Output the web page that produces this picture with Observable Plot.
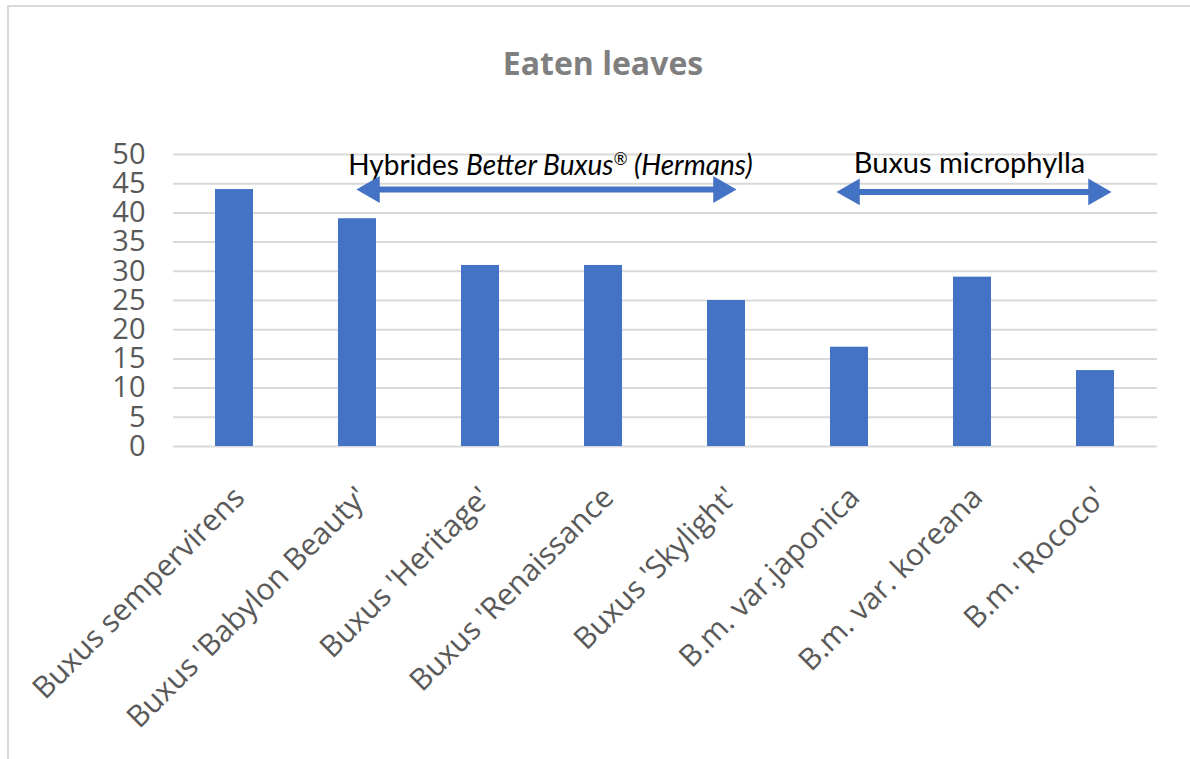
<!DOCTYPE html>
<html>
<head>
<meta charset="utf-8">
<script src="https://cdn.jsdelivr.net/npm/d3@7"></script>
<script src="https://cdn.jsdelivr.net/npm/@observablehq/plot@0.6"></script>
<style>
  html, body { margin: 0; padding: 0; background: #fff; width: 1190px; height: 759px; overflow: hidden; }
  #frame { position: absolute; left: 7px; top: 5px; width: 1200px; height: 800px; border: 2px solid #d9d9d9; box-sizing: border-box; }
  #title { position: absolute; left: 0; top: 47px; width: 1206px; text-align: center; font-family: "Open Sans", sans-serif; font-weight: bold; font-size: 32px; line-height: 1; color: #7f7f7f; }
  #chart { position: absolute; left: 0; top: 0; }
</style>
</head>
<body>
<div id="frame"></div>
<div id="title">Eaten leaves</div>
<div id="chart"></div>
<script>
const categories = ["Buxus sempervirens", "Buxus 'Babylon Beauty'", "Buxus 'Heritage'", "Buxus 'Renaissance", "Buxus 'Skylight'", "B.m. var.japonica", "B.m. var. koreana", "B.m. 'Rococo'"];
const eaten = [44, 39, 31, 31, 25, 17, 29, 13];
const yTicks = [0, 5, 10, 15, 20, 25, 30, 35, 40, 45, 50];
const groupLabels = ["Hybrides Better Buxus® (Hermans)", "Buxus microphylla"];
const groupFrom = ["Buxus 'Babylon Beauty'", "B.m. var.japonica"];
const groupTo = ["Buxus 'Skylight'", "B.m. 'Rococo'"];

const data = categories.map((name, i) => ({name, value: eaten[i]}));
const blue = "#4472c4";
const annoFont = "Lato, 'Open Sans', sans-serif";

const plot = Plot.plot({
  width: 1190,
  height: 759,
  marginLeft: 173,
  marginRight: 33,
  marginTop: 154,
  marginBottom: 313,
  style: {background: "transparent", fontFamily: "'Open Sans', sans-serif"},
  x: {domain: categories, paddingInner: 0.69, paddingOuter: 0.345, axis: null},
  y: {domain: [0, 50], axis: null},
  marks: [
    Plot.gridY({ticks: yTicks, stroke: "#d9d9d9", strokeOpacity: 1, strokeWidth: 2}),
    Plot.axisY({ticks: yTicks, tickSize: 0, tickPadding: 28, fontSize: 29, color: "#595959", tickFormat: d => String(d), label: null}),
    Plot.barY(data, {x: "name", y: "value", fill: blue}),
    Plot.text(categories, {x: d => d, frameAnchor: "bottom", rotate: -45, textAnchor: "end", lineAnchor: "middle", dx: 5, dy: 46, fontSize: 30, fill: "#595959"}),
    // group annotations
    Plot.text([groupLabels[0]], {x: () => categories[2], y: () => 48.0, dx: 70, text: d => d, fontSize: 28, fontFamily: annoFont, fill: "#000", textAnchor: "middle", lineAnchor: "middle"}),
    Plot.text([groupLabels[1]], {x: () => categories[6], y: () => 48.5, dx: -3, text: d => d, fontSize: 29, fontFamily: annoFont, fill: "#000", textAnchor: "middle", lineAnchor: "middle"}),
    Plot.link([0], {x1: () => groupFrom[0], x2: () => groupTo[0], y1: () => 44.0, y2: () => 44.0, dx: 4, stroke: blue, strokeWidth: 6}),
    Plot.link([1], {x1: () => groupFrom[1], x2: () => groupTo[1], y1: () => 43.6, y2: () => 43.6, stroke: blue, strokeWidth: 6}),
    Plot.dot([0], {x: () => groupFrom[0], y: () => 44.0, dx: 14.5, symbol: "triangle", r: 10, fill: blue, rotate: -90}),
    Plot.dot([0], {x: () => groupTo[0], y: () => 44.0, dx: -5.5, symbol: "triangle", r: 10, fill: blue, rotate: 90}),
    Plot.dot([1], {x: () => groupFrom[1], y: () => 43.6, dx: 2.5, symbol: "triangle", r: 10, fill: blue, rotate: -90}),
    Plot.dot([1], {x: () => groupTo[1], y: () => 43.6, dx: 0.5, symbol: "triangle", r: 10, fill: blue, rotate: 90})
  ]
});

// italicise part of the first group label, with a superscript ®
d3.select(plot).selectAll("text").filter(function() { return this.textContent === groupLabels[0]; }).each(function() {
  const t = d3.select(this);
  t.text("");
  t.append("tspan").text("Hybrides ");
  t.append("tspan").attr("font-style", "italic").text("Better Buxus");
  t.append("tspan").attr("font-style", "italic").attr("font-size", "0.6em").attr("baseline-shift", "super").text("®");
  t.append("tspan").attr("font-style", "italic").text(" (Hermans)");
});

document.getElementById("chart").appendChild(plot);
</script>
</body>
</html>
